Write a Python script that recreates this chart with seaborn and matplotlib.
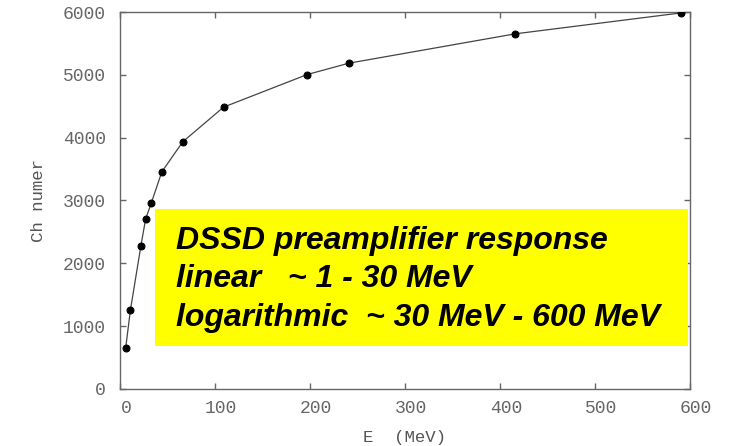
import matplotlib
matplotlib.use("Agg")
import matplotlib.pyplot as plt
import matplotlib.transforms as mtransforms
import seaborn as sns
import pandas as pd
from matplotlib.patches import Rectangle

energy_mev = [6, 11, 22, 27, 33, 44, 66, 109, 197, 241, 416, 591]
channel = [655, 1258, 2277, 2707, 2962, 3455, 3933, 4486, 5005, 5186, 5653, 5987]
x_ticks = [0, 100, 200, 300, 400, 500, 600]
y_ticks = [0, 1000, 2000, 3000, 4000, 5000, 6000]
note_lines = ["DSSD preamplifier response",
              "linear   ~ 1 - 30 MeV",
              "logarithmic  ~ 30 MeV - 600 MeV"]

sns.set_theme(style="ticks")
plt.rcParams['font.family'] = ['Liberation Mono', 'DejaVu Sans Mono']

df = pd.DataFrame({"E": energy_mev, "ch": channel})

fig = plt.figure(figsize=(7.29, 4.46), dpi=100)
ax = fig.add_axes([0.1646, 0.128, 0.7819, 0.845])

sns.lineplot(data=df, x="E", y="ch", ax=ax, color="#444444", linewidth=0.9,
             marker="o", markersize=5, markerfacecolor="black",
             markeredgecolor="black", zorder=3)

ax.set_xlim(0, 600)
ax.set_ylim(0, 6000)
ax.set_xticks(x_ticks)
ax.set_yticks(y_ticks)
ax.set_xticklabels([str(t) for t in x_ticks])
ax.set_yticklabels([str(t) for t in y_ticks])

for s in ax.spines.values():
    s.set_visible(True)
    s.set_color("#666666")
    s.set_linewidth(1.0)

ax.tick_params(axis="both", direction="in", length=4, width=1, color="#666666",
               labelsize=13, labelcolor="#666666", top=True, right=True)
ax.tick_params(axis="x", pad=8)
ax.tick_params(axis="y", pad=10)

offset = mtransforms.ScaledTranslation(6 / 100, 0, fig.dpi_scale_trans)
for lbl in ax.get_xticklabels():
    lbl.set_transform(lbl.get_transform() + offset)

ax.set_xlabel("E  (MeV)", fontsize=12.5, color="#555555", labelpad=9)
ax.set_ylabel("Ch numer", fontsize=12.5, color="#555555", labelpad=12)

# yellow annotation box
ax.add_patch(Rectangle((37, 685), 561, 2181, facecolor="#ffff00",
                       edgecolor="none", zorder=4))
y0 = 2357
for i, line in enumerate(note_lines):
    ax.text(59, y0 - i * 613, line, fontsize=23, fontweight="bold",
            fontstyle="italic", family=["Liberation Sans", "DejaVu Sans"],
            color="black", va="center", ha="left", zorder=5)

fig.savefig("out.png", dpi=100)
